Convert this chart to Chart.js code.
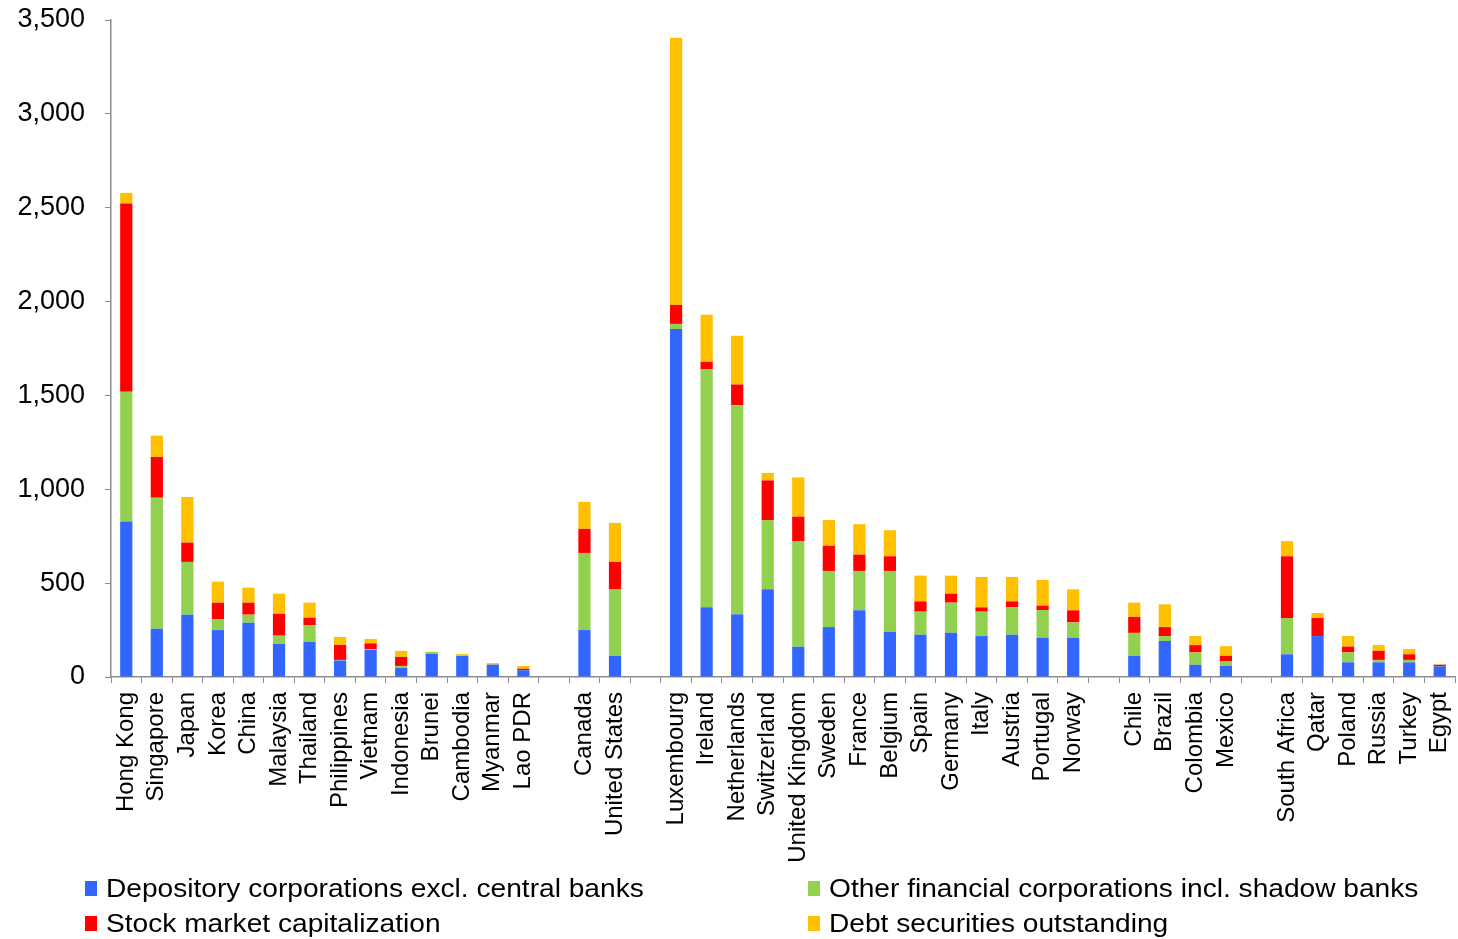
<!DOCTYPE html>
<html>
<head>
<meta charset="utf-8">
<script src="https://cdn.jsdelivr.net/npm/chart.js@4/dist/chart.umd.min.js"></script>
<style>
  body { margin: 0; background: #fff; }
  #wrap { position: relative; width: 1458px; height: 939px; }
  #legend { position: absolute; left: 0; top: 0; width: 1458px; height: 939px; pointer-events: none;
            font-family: "Liberation Sans", Arial, sans-serif; font-size: 25px; color: #000; }
  .item { position: absolute; white-space: nowrap; line-height: 30px; transform: scaleX(1.125); transform-origin: left center; }
  .box { position: absolute; width: 12px; height: 15px; }
</style>
</head>
<body>
<div id="wrap">
  <canvas id="chart"></canvas>
  <div id="legend"></div>
</div>
<script>
// Categories, '' = gap between regions
const categories = ['Hong Kong', 'Singapore', 'Japan', 'Korea', 'China', 'Malaysia', 'Thailand', 'Philippines',
    'Vietnam', 'Indonesia', 'Brunei', 'Cambodia', 'Myanmar', 'Lao PDR', '',
    'Canada', 'United States', '',
    'Luxembourg', 'Ireland', 'Netherlands', 'Switzerland', 'United Kingdom', 'Sweden', 'France', 'Belgium',
    'Spain', 'Germany', 'Italy', 'Austria', 'Portugal', 'Norway', '',
    'Chile', 'Brazil', 'Colombia', 'Mexico', '',
    'South Africa', 'Qatar', 'Poland', 'Russia', 'Turkey', 'Egypt'];

const depository = [828, 257, 332, 250, 289, 177, 187, 88, 145, 48, 124, 112, 66, 36, null,
    250, 112, null,
    1854, 371, 334, 468, 161, 266, 355, 241, 225, 236, 218, 225, 209, 209, null,
    113, 192, 65, 59, null,
    121, 218, 78, 78, 78, 57];
const otherFinancial = [692, 698, 281, 57, 43, 43, 88, 3, 4, 11, 9, 4, 0, 0, null,
    411, 357, null,
    27, 1268, 1114, 368, 563, 299, 210, 324, 123, 160, 130, 146, 148, 82, null,
    122, 26, 66, 24, null,
    193, 0, 53, 13, 13, 0];
const stockMarket = [1002, 217, 103, 89, 64, 117, 41, 80, 30, 48, 0, 0, 0, 8, null,
    128, 144, null,
    101, 40, 110, 211, 130, 134, 87, 78, 55, 48, 23, 32, 23, 64, null,
    85, 48, 39, 30, null,
    329, 96, 31, 48, 30, 8];
const debtSecurities = [57, 114, 243, 112, 80, 107, 80, 42, 24, 32, 0, 6, 8, 15, null,
    144, 208, null,
    1424, 251, 260, 40, 209, 137, 162, 139, 137, 96, 162, 130, 137, 112, null,
    76, 121, 48, 51, null,
    81, 27, 56, 31, 28, 3];

const seriesNames = ['Depository corporations excl. central banks', 'Other financial corporations incl. shadow banks',
    'Stock market capitalization', 'Debt securities outstanding'];
const seriesColors = ['#3366FF', '#92D050', '#FF0000', '#FFC000'];

const yTicks = [0, 500, 1000, 1500, 2000, 2500, 3000, 3500];

const fontFamily = '"Liberation Sans", Arial, sans-serif';
const axisGray = '#8c8c8c';

const seriesData = [depository, otherFinancial, stockMarket, debtSecurities];
const datasets = seriesData.map((d, i) => ({
    label: seriesNames[i],
    data: d,
    backgroundColor: seriesColors[i],
    borderWidth: 0,
    barPercentage: 0.4,
    categoryPercentage: 1
}));

const chart = new Chart(document.getElementById('chart'), {
    type: 'bar',
    data: { labels: categories, datasets: datasets },
    options: {
        responsive: true,
        maintainAspectRatio: false,
        animation: false,
        layout: { padding: { top: 20, right: 3, bottom: 0, left: 0 } },
        plugins: { legend: { display: false }, tooltip: { enabled: false } },
        scales: {
            x: {
                stacked: true,
                grid: { drawOnChartArea: false, tickLength: 6, color: axisGray, offset: true },
                border: { color: axisGray, width: 1.5 },
                ticks: { font: { family: fontFamily, size: 24 }, color: '#000',
                         minRotation: 90, maxRotation: 90, autoSkip: false, padding: 9 },
                // fixed axis height so the plot bottom sits where the original has it
                afterFit: scale => { scale.height = 262; scale.paddingLeft = 0; scale.paddingRight = 0; }
            },
            y: {
                stacked: true,
                min: 0,
                max: 3500,
                afterBuildTicks: axis => { axis.ticks = yTicks.map(v => ({ value: v })); },
                grid: { drawOnChartArea: false, tickLength: 6, color: axisGray },
                border: { color: axisGray, width: 1.5 },
                ticks: { font: { family: fontFamily, size: 27 }, color: '#000', padding: 20,
                         callback: v => v.toLocaleString('en-US') },
                afterFit: scale => { scale.width = 111; scale.paddingTop = 0; scale.paddingBottom = 0; }
            }
        }
    }
});

// Legend in two columns, like the original
const legendEl = document.getElementById('legend');
const legendPos = [[85, 873], [808, 873], [85, 908], [808, 908]];
chart.data.datasets.forEach((ds, i) => {
    const [x, y] = legendPos[i];
    const box = document.createElement('div');
    box.className = 'box';
    box.style.left = x + 'px';
    box.style.top = (y + 8) + 'px';
    box.style.background = ds.backgroundColor;
    legendEl.appendChild(box);
    const item = document.createElement('div');
    item.className = 'item';
    item.style.left = (x + 21) + 'px';
    item.style.top = y + 'px';
    item.textContent = ds.label;
    legendEl.appendChild(item);
});
</script>
</body>
</html>
